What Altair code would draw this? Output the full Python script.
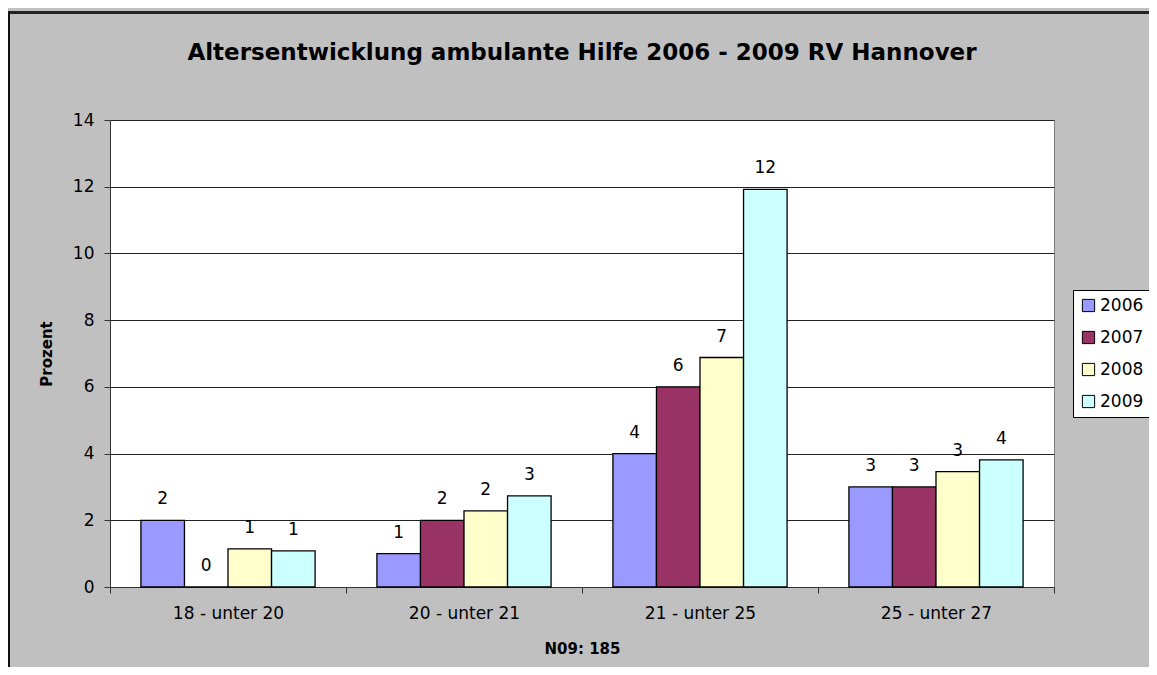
import altair as alt
import pandas as pd

categories = ["18 - unter 20", "20 - unter 21", "21 - unter 25", "25 - unter 27"]
years = ["2006", "2007", "2008", "2009"]
v2006 = [2.0, 1.0, 4.0, 3.0]
v2007 = [0.0, 2.0, 6.0, 3.0]
v2008 = [1.14, 2.28, 6.88, 3.46]
v2009 = [1.08, 2.73, 11.92, 3.81]
colors = ["#9999FF", "#993366", "#FFFFCC", "#CCFFFF"]
y_ticks = [0, 2, 4, 6, 8, 10, 12, 14]

rows = []
for yr, vals in zip(years, [v2006, v2007, v2008, v2009]):
    for cat, v in zip(categories, vals):
        rows.append({"Altersgruppe": cat, "Jahr": yr, "Prozent": v})
df = pd.DataFrame(rows)

FONT = "DejaVu Sans"

base = alt.Chart(df).encode(
    x=alt.X(
        "Altersgruppe:N",
        sort=categories,
        scale=alt.Scale(paddingInner=0, paddingOuter=0),
        axis=alt.Axis(
            title="N09: 185",
            labelAngle=0,
            tickBand="extent",
            tickSize=6,
            labelPadding=12,
            labelFontSize=17,
            labelFont=FONT,
            labelColor="black",
            titleFont=FONT,
            titleFontSize=15,
            titleFontWeight="bold",
            titleColor="black",
            titlePadding=20,
            domainColor="#333333",
            tickColor="#333333",
            grid=False,
        ),
    ),
    xOffset=alt.XOffset(
        "Jahr:N", sort=years, scale=alt.Scale(paddingInner=0, paddingOuter=0.71)
    ),
    y=alt.Y(
        "Prozent:Q",
        scale=alt.Scale(domain=[0, 14], nice=False),
        axis=alt.Axis(
            title="Prozent",
            values=y_ticks,
            tickSize=6,
            labelPadding=10,
            labelFontSize=17,
            labelFont=FONT,
            labelColor="black",
            titleFont=FONT,
            titleFontSize=15,
            titleFontWeight="bold",
            titleColor="black",
            titlePadding=18,
            domainColor="#333333",
            tickColor="#333333",
            gridColor="#222222",
            gridWidth=1,
        ),
    ),
)

bars = base.mark_bar(stroke="black", strokeWidth=1.3).encode(
    color=alt.Color(
        "Jahr:N",
        scale=alt.Scale(domain=years, range=colors),
        legend=alt.Legend(
            title=None,
            orient="none",
            legendX=963,
            legendY=170,
            symbolType="square",
            symbolSize=150,
            symbolStrokeColor="black",
            symbolStrokeWidth=1,
            labelFont=FONT,
            labelFontSize=17,
            labelColor="black",
            labelOffset=3,
            rowPadding=14,
            padding=7,
            strokeColor="black",
            fillColor="white",
        ),
    )
)

labels = base.mark_text(
    dy=-16, baseline="alphabetic", fontSize=17, font=FONT, color="black"
).encode(text=alt.Text("Prozent:Q", format=".0f"))

border_top = alt.Chart(df).mark_rule(color="#222222", strokeWidth=2).encode(
    x=alt.value(-102), x2=alt.value(1039), y=alt.value(-107.5)
)
border_left = alt.Chart(df).mark_rule(color="#111111", strokeWidth=2).encode(
    x=alt.value(-101), y=alt.value(-108), y2=alt.value(547)
)

chart = (
    alt.layer(bars, labels, border_top, border_left)
    .properties(
        width=944,
        height=467,
        title=alt.TitleParams(
            "Altersentwicklung ambulante Hilfe 2006 - 2009 RV Hannover",
            font=FONT,
            fontSize=23,
            fontWeight="bold",
            color="black",
            anchor="middle",
            frame="group",
            offset=-54,
        ),
        autosize=alt.AutoSizeParams(type="none"),
        padding={"left": 102, "top": 112, "right": 95, "bottom": 80},
        background="#C0C0C0",
    )
    .configure_view(stroke="#808080", strokeWidth=1, fill="white")
)

chart.save("out.html", embed_options={"renderer": "svg", "actions": False})
